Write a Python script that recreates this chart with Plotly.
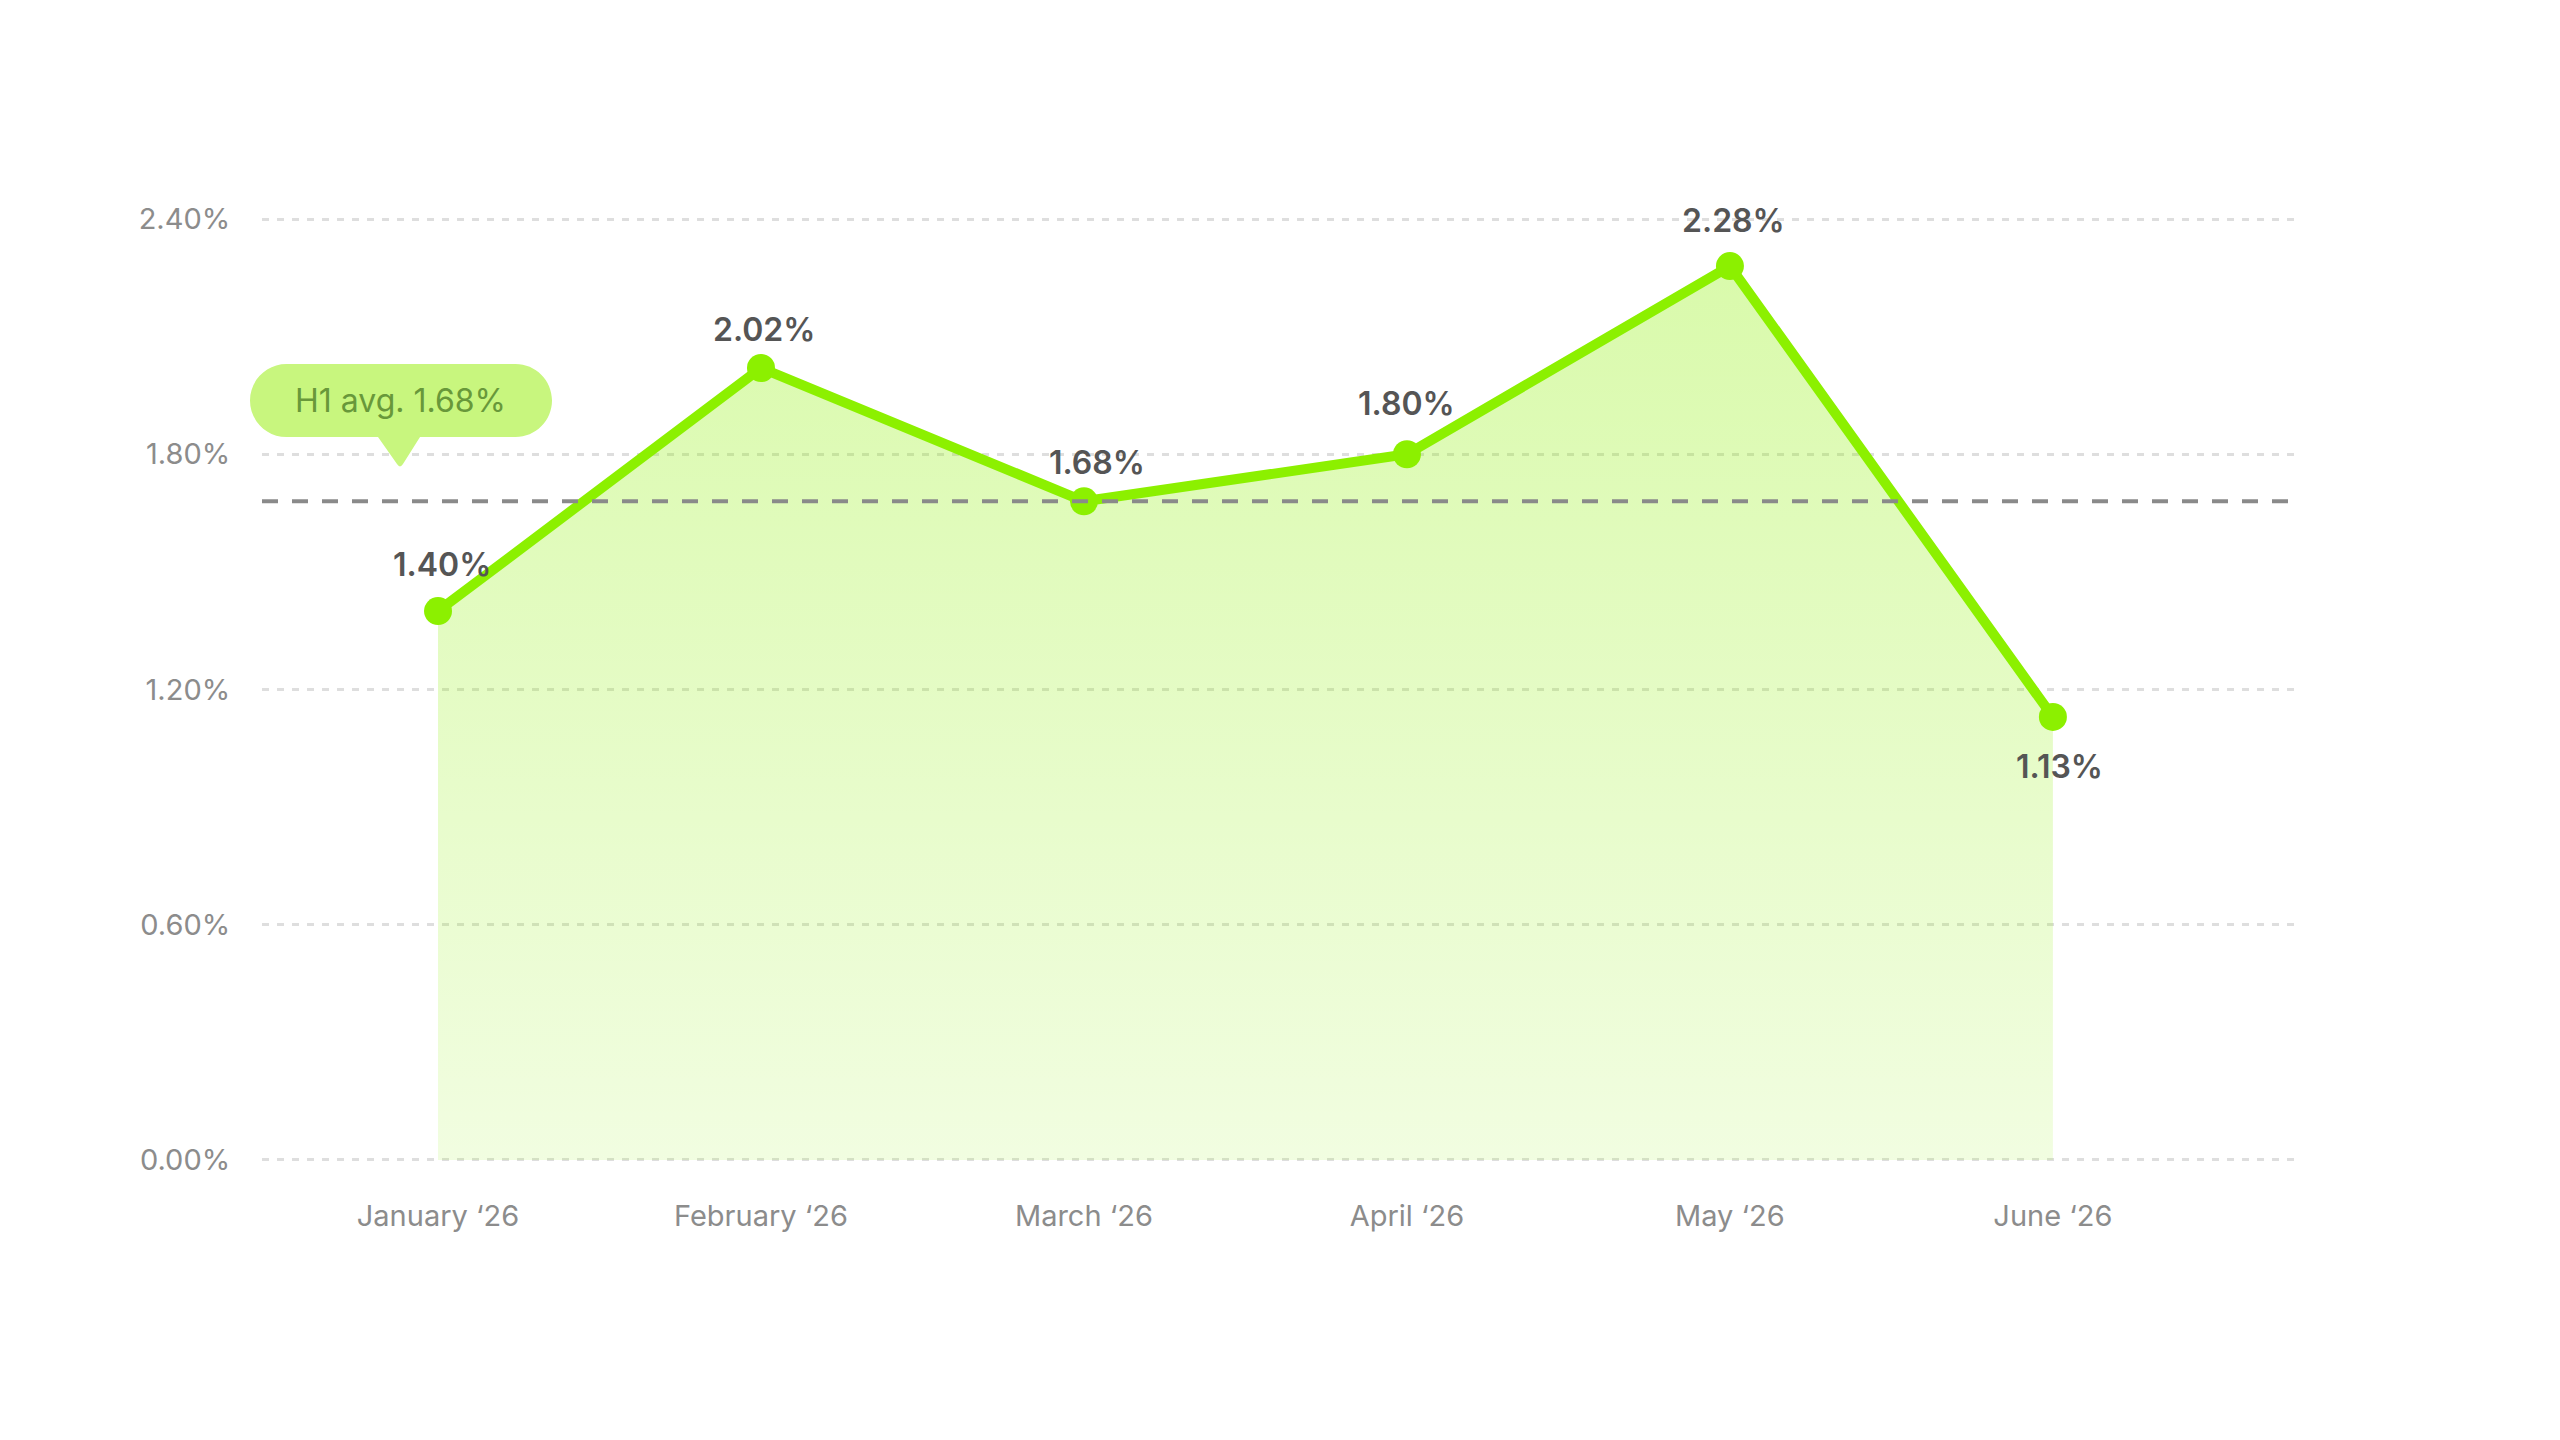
import plotly.graph_objects as go

# ---------------- data ----------------
months = ["January \u201826", "February \u201826", "March \u201826", "April \u201826", "May \u201826", "June \u201826"]
rates = [1.40, 2.02, 1.68, 1.80, 2.28, 1.13]
rate_labels = ["1.40%", "2.02%", "1.68%", "1.80%", "2.28%", "1.13%"]
avg_rate = 1.68
avg_label = "H1 avg. 1.68%"
y_tick_vals = [0.0, 0.6, 1.2, 1.8, 2.4]
y_tick_labels = ["0.00%", "0.60%", "1.20%", "1.80%", "2.40%"]

# ---------------- layout constants (pixels) ----------------
W, H = 2560, 1440
L, R, T, B = 262, 261, 218, 279
PW, PH = W - L - R, H - T - B

# per-label offsets (pixels)
label_dx = [4, 3, 13, 0, 4, 7]
label_dy = [47, 39, 39, 51, 46, -50]

LIME = "#8cf000"
FONT = "Inter"

def paper(px, py):
    return (px - L) / PW, (H - B - py) / PH

xs = list(range(len(months)))

fig = go.Figure()
fig.add_trace(go.Scatter(
    x=xs, y=rates,
    mode="lines+markers",
    line=dict(color=LIME, width=10),
    marker=dict(color=LIME, size=28),
    fill="tozeroy",
    fillgradient=dict(type="vertical",
                      colorscale=[[0, "rgba(140,240,0,0.12)"], [1, "rgba(140,240,0,0.33)"]]),
    hoverinfo="skip",
    cliponaxis=False,
    showlegend=False,
))

# average dashed line
fig.add_shape(type="line", xref="paper", x0=0, x1=1, yref="y", y0=avg_rate, y1=avg_rate,
              line=dict(color="#8a8a8a", width=4, dash="16px,14px"), layer="above")

# data labels
for i, (v, t) in enumerate(zip(rates, rate_labels)):
    fig.add_annotation(x=xs[i], y=v, text=t, showarrow=False,
                       xshift=label_dx[i], yshift=label_dy[i],
                       font=dict(family=FONT, size=32, color="#555555", weight=600))

# callout pill
left, right, top, bottom = 250, 552, 364, 437
r = (bottom - top) / 2
k = 0.5523 * r
tb_l, tb_r, tip_x, tip_y = 378, 420, 400, 468
def P(x, y):
    a, b = paper(x, y)
    return f"{a:.5f},{b:.5f}"
path = (
    f"M {P(left + r, top)} L {P(right - r, top)} "
    f"C {P(right - r + k, top)} {P(right, top + r - k)} {P(right, top + r)} "
    f"C {P(right, top + r + k)} {P(right - r + k, bottom)} {P(right - r, bottom)} "
    f"L {P(tb_r, bottom)} L {P(tip_x + 3, tip_y - 4)} "
    f"Q {P(tip_x, tip_y + 1)} {P(tip_x - 3, tip_y - 4)} "
    f"L {P(tb_l, bottom)} L {P(left + r, bottom)} "
    f"C {P(left + r - k, bottom)} {P(left, top + r + k)} {P(left, top + r)} "
    f"C {P(left, top + r - k)} {P(left + r - k, top)} {P(left + r, top)} Z"
)
fig.add_shape(type="path", xref="paper", yref="paper", path=path,
              fillcolor="#c8f67e", line=dict(width=0), layer="above")
cx, cy = paper((left + right) / 2 - 1, (top + bottom) / 2)
fig.add_annotation(xref="paper", yref="paper", x=cx, y=cy, text=avg_label, showarrow=False,
                   xanchor="center", yanchor="middle",
                   font=dict(family=FONT, size=32, color="#68983a"))

fig.update_layout(
    width=W, height=H,
    margin=dict(l=L, r=R, t=T, b=B),
    paper_bgcolor="white", plot_bgcolor="white",
    font=dict(family=FONT),
    showlegend=False,
    xaxis=dict(range=[-0.545, 5.762], tickvals=xs, ticktext=months,
               showgrid=False, zeroline=False, showline=False,
               ticks="outside", ticklen=29, tickcolor="rgba(0,0,0,0)",
               tickfont=dict(family=FONT, size=29, color="#8c8c8c"), fixedrange=True),
    yaxis=dict(range=[-0.0026, 2.4026], tickvals=y_tick_vals, ticktext=y_tick_labels,
               showgrid=True, gridcolor="#dedede", gridwidth=3, griddash="7px,8px",
               zeroline=False, showline=False,
               ticks="outside", ticklen=25, tickcolor="rgba(0,0,0,0)",
               tickfont=dict(family=FONT, size=29, color="#8c8c8c"), fixedrange=True),
)

fig.write_html("out.html", config={"displayModeBar": False},
               post_script="document.body.style.margin='0';document.body.style.overflow='hidden';")
